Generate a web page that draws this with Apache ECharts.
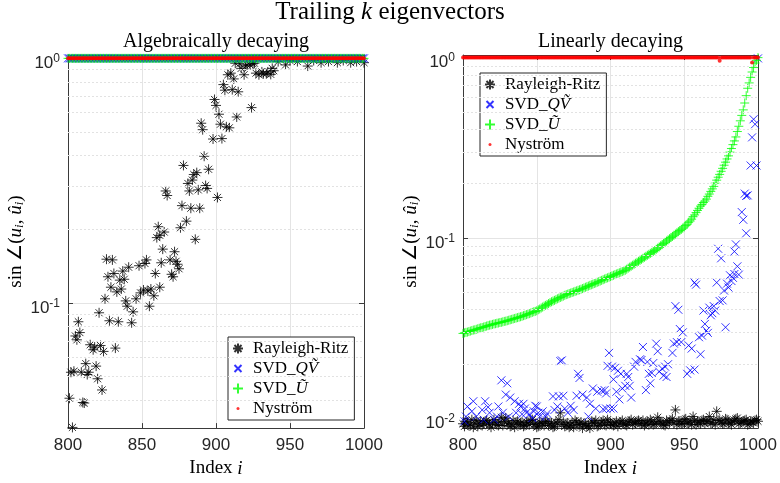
<!DOCTYPE html>
<html>
<head>
<meta charset="utf-8">
<script src="https://cdn.jsdelivr.net/npm/echarts@6/dist/echarts.min.js"></script>
<style>html,body{margin:0;padding:0;background:#fff}#chart{width:780px;height:483px}</style>
</head>
<body>
<div id="chart"></div>
<script>
const chart = echarts.init(document.getElementById('chart'));

const firstIndex = 800;
const xTicks = [800, 850, 900, 950, 1000];
const seriesNames = ['Rayleigh-Ritz', 'SVD_QV', 'SVD_U', 'Nyström'];

// left panel: Rayleigh-Ritz angles (index, value)
const rrLeftIdx = [
    803, 801, 810, 811, 823, 820, 802, 804, 809, 812,
    814, 813, 819, 815, 817, 818, 822, 824, 832, 805,
    806, 808, 807, 821, 828, 834, 843, 825, 839, 840,
    844, 846, 849, 851, 854, 856, 858, 855, 862, 829,
    836, 833, 827, 831, 837, 838, 835, 841, 848, 852,
    853, 826, 830, 859, 864, 872, 863, 869, 873, 875,
    870, 871, 874, 860, 886,
    861, 862, 865, 876, 880, 866, 867, 877, 883, 889,
    901, 893, 894, 888, 882, 881, 884, 885, 887, 878,
    895, 892, 890, 891, 898, 904, 903, 907, 902, 899,
    900, 905, 906, 908,
    909, 914, 924, 911, 915, 910, 912, 919, 917, 920,
    923, 929, 932, 934, 938, 935, 947, 962, 913, 916,
    926, 971, 982, 991, 1000, 927, 931, 937, 939, 921,
    925, 942, 950, 955, 966, 976, 986, 995,
];
const rrLeftVal = [
    0.031, 0.0408, 0.0392, 0.039, 0.0441, 0.049, 0.0521, 0.0526, 0.0521, 0.0565,
    0.0521, 0.051, 0.0552, 0.0675, 0.0644, 0.066, 0.067, 0.0634, 0.0654, 0.0733,
    0.0707, 0.0757, 0.0838, 0.0912, 0.0846, 0.0838, 0.083, 0.104, 0.102, 0.097,
    0.092, 0.104, 0.110, 0.113, 0.112, 0.114, 0.107, 0.097, 0.116, 0.116,
    0.114, 0.111, 0.128, 0.132, 0.135, 0.125, 0.124, 0.140, 0.142, 0.145,
    0.150, 0.151, 0.150, 0.132, 0.166, 0.162, 0.146, 0.150, 0.148, 0.138,
    0.131, 0.128, 0.144, 0.185, 0.182,
    0.205, 0.189, 0.195, 0.203, 0.216, 0.287, 0.275, 0.250, 0.244, 0.244,
    0.270, 0.302, 0.294, 0.290, 0.287, 0.308, 0.318, 0.335, 0.341, 0.365,
    0.352, 0.398, 0.543, 0.511, 0.468, 0.470, 0.538, 0.525, 0.591, 0.679,
    0.642, 0.781, 0.741, 0.857,
    0.520, 0.576, 0.629, 0.745, 0.730, 0.870, 0.824, 0.857, 0.910, 0.930,
    0.940, 0.857, 0.865, 0.865, 0.910, 0.880, 0.940, 0.930, 0.955, 0.950,
    0.955, 0.960, 0.960, 0.960, 0.960, 0.870, 0.880, 0.860, 0.890, 0.940,
    0.950, 0.970, 0.980, 0.970, 0.980, 0.970, 0.980, 0.970,
];

// left panel: SVD_QV, SVD_U and Nystrom all sit at 1 for every index 800..1000
const topBandLeft = [
    1,1,1,1,1,1,1,1,1,1,1,1,1,1,1,1,1,1,1,1,
    1,1,1,1,1,1,1,1,1,1,1,1,1,1,1,1,1,1,1,1,
    1,1,1,1,1,1,1,1,1,1,1,1,1,1,1,1,1,1,1,1,
    1,1,1,1,1,1,1,1,1,1,1,1,1,1,1,1,1,1,1,1,
    1,1,1,1,1,1,1,1,1,1,1,1,1,1,1,1,1,1,1,1,
    1,1,1,1,1,1,1,1,1,1,1,1,1,1,1,1,1,1,1,1,
    1,1,1,1,1,1,1,1,1,1,1,1,1,1,1,1,1,1,1,1,
    1,1,1,1,1,1,1,1,1,1,1,1,1,1,1,1,1,1,1,1,
    1,1,1,1,1,1,1,1,1,1,1,1,1,1,1,1,1,1,1,1,
    1,1,1,1,1,1,1,1,1,1,1,1,1,1,1,1,1,1,1,1,
    1,
];

// right panel: Rayleigh-Ritz at even indices 800, 802, ..., 1000
const rrRightEven = [
    0.0093, 0.0096, 0.0091, 0.0098, 0.0094, 0.0090, 0.0096, 0.0093, 0.0097, 0.0092,
    0.0094, 0.0095, 0.0091, 0.0101, 0.0096, 0.0093, 0.0090, 0.0097, 0.0094, 0.0092, 0.0095,
    0.0091, 0.0094, 0.0097, 0.0092, 0.0089, 0.0095, 0.0093, 0.0096, 0.0091, 0.0094,
    0.0090, 0.0093, 0.0107, 0.0095, 0.0092, 0.0089, 0.0094, 0.0097, 0.0092, 0.0095,
    0.0093, 0.0090, 0.0088, 0.0094, 0.0097, 0.0091, 0.0095, 0.0092, 0.0098, 0.0094,
    0.0091, 0.0096, 0.0093, 0.0097, 0.0092, 0.0095, 0.0098, 0.0094, 0.0096, 0.0093,
    0.0097, 0.0094, 0.0092, 0.0096, 0.0093, 0.0101, 0.0095, 0.0092, 0.0097, 0.0094,
    0.0099, 0.0111, 0.0096, 0.0093, 0.0098, 0.0094, 0.0096, 0.0102, 0.0092, 0.0095,
    0.0097, 0.0093, 0.0096, 0.0094, 0.0098, 0.0109, 0.0097, 0.0093, 0.0099, 0.0095,
    0.0092, 0.0097, 0.0100, 0.0094, 0.0096, 0.0098, 0.0093, 0.0095, 0.0097, 0.0096,
];
// right panel: Rayleigh-Ritz at odd indices 801, 803, ..., 999
const rrRightOdd = [
    0.0090, 0.0095, 0.0092, 0.0089, 0.0097, 0.0093, 0.0091, 0.0096, 0.0094, 0.0089,
    0.0098, 0.0092, 0.0095, 0.0091, 0.0100, 0.0094, 0.0092, 0.0089, 0.0096, 0.0093,
    0.0090, 0.0095, 0.0092, 0.0098, 0.0093, 0.0090, 0.0094, 0.0091, 0.0096, 0.0093,
    0.0089, 0.0095, 0.0098, 0.0092, 0.0090, 0.0094, 0.0091, 0.0089, 0.0095, 0.0092,
    0.0088, 0.0093, 0.0091, 0.0096, 0.0094, 0.0090, 0.0093, 0.0097, 0.0091, 0.0095,
    0.0092, 0.0094, 0.0090, 0.0095, 0.0093, 0.0091, 0.0096, 0.0092, 0.0094, 0.0097,
    0.0093, 0.0091, 0.0095, 0.0098, 0.0092, 0.0094, 0.0096, 0.0093, 0.0091, 0.0095,
    0.0097, 0.0094, 0.0092, 0.0096, 0.0093, 0.0099, 0.0094, 0.0092, 0.0097, 0.0095,
    0.0093, 0.0098, 0.0096, 0.0102, 0.0094, 0.0092, 0.0097, 0.0095, 0.0093, 0.0098,
    0.0094, 0.0096, 0.0099, 0.0093, 0.0095, 0.0097, 0.0092, 0.0096, 0.0094, 0.0098,
];

// right panel: SVD_QV (index, value)
const qvRightIdx = [
    826, 830, 829, 832, 835, 838, 841, 839, 842, 849,
    848, 851, 854, 857, 845, 861, 865, 868, 867, 866,
    864, 862, 869, 873, 875, 871, 878, 879, 877, 881,
    884, 886, 888, 891, 894, 897, 899, 898, 901, 885,
    890, 895, 900, 807, 803, 806, 802, 801, 815, 813,
    817, 818, 809, 824, 823, 821, 827, 814, 831, 836,
    840, 843, 852, 856, 847, 850, 903, 905, 907, 902,
    911, 912, 910, 908, 913, 914, 906, 904, 896, 897,
    902, 916, 917, 920, 921, 922, 925, 926, 928, 927,
    924, 929, 931, 932, 933, 935, 937, 939, 936, 938,
    942, 943, 945, 948, 944, 946, 947, 949, 952, 954,
    957, 953, 955, 957, 958, 961, 960, 962, 965, 966,
    964, 968, 969, 971, 963, 967, 970, 974, 976, 972,
    978, 977, 980, 979, 982, 983, 981, 984, 987, 986,
    973, 975, 985, 984, 992, 990, 989, 991, 993, 992,
    995, 999, 996, 997, 998, 1000,
];
const qvRightVal = [
    0.0162, 0.0156, 0.0135, 0.0130, 0.0124, 0.0120, 0.0120, 0.0116, 0.0113, 0.0117,
    0.0109, 0.0107, 0.0109, 0.0106, 0.0105, 0.0132, 0.0132, 0.0133, 0.0209, 0.0207,
    0.0116, 0.0111, 0.0113, 0.0117, 0.0111, 0.0107, 0.0176, 0.0167, 0.0133, 0.0135,
    0.0130, 0.0120, 0.0146, 0.0140, 0.0142, 0.0137, 0.0230, 0.0195, 0.0193, 0.0102,
    0.0113, 0.0112, 0.0113, 0.0124, 0.0116, 0.0109, 0.0102, 0.0096, 0.0124, 0.0111,
    0.0115, 0.0107, 0.0102, 0.0116, 0.0102, 0.0098, 0.0107, 0.0098, 0.0102, 0.0107,
    0.0105, 0.0107, 0.0102, 0.0102, 0.0100, 0.0116, 0.0190, 0.0183, 0.0176, 0.0164,
    0.0176, 0.0169, 0.0151, 0.0146, 0.0151, 0.0130, 0.0127, 0.0140, 0.0143, 0.0113,
    0.0113, 0.0193, 0.0205, 0.0212, 0.0210, 0.0248, 0.0205, 0.0176, 0.0178, 0.0156,
    0.0143, 0.0202, 0.0259, 0.0235, 0.0181, 0.0188, 0.0193, 0.0199, 0.0172, 0.0169,
    0.0230, 0.0259, 0.0264, 0.0264, 0.0418, 0.0399, 0.0312, 0.0299, 0.0176, 0.0184,
    0.0186, 0.0253, 0.0243, 0.0565, 0.0550, 0.0226, 0.0281, 0.0287, 0.0306, 0.0297,
    0.0333, 0.0372, 0.0382, 0.0395, 0.0395, 0.0410, 0.0418, 0.0446, 0.0450, 0.0565,
    0.0319, 0.0510, 0.0530, 0.0557, 0.0576, 0.0600, 0.0620, 0.0630, 0.0625, 0.0695,
    0.0870, 0.0770, 0.0920, 0.0840, 0.1060, 0.1260, 0.1390, 0.1760, 0.1720, 0.1710,
    0.2520, 0.2520, 0.3610, 0.4550, 0.4270, 0.990,
];

// right panel: SVD_U, every index 800..1000
const uRight = [
    0.0295, 0.0297, 0.0299, 0.0300, 0.0302, 0.0304, 0.0306, 0.0308, 0.0309, 0.0311,
    0.0313, 0.0315, 0.0317, 0.0318, 0.0320, 0.0322, 0.0324, 0.0326, 0.0328, 0.0329,
    0.0331, 0.0333, 0.0334, 0.0336, 0.0337, 0.0339, 0.0340, 0.0342, 0.0344, 0.0345,
    0.0347, 0.0349, 0.0351, 0.0353, 0.0355, 0.0357, 0.0359, 0.0361, 0.0363, 0.0365,
    0.0367, 0.0370, 0.0372, 0.0375, 0.0378, 0.0380, 0.0383, 0.0386, 0.0389, 0.0391,
    0.0394, 0.0399, 0.0403, 0.0408, 0.0413, 0.0418, 0.0422, 0.0427, 0.0432, 0.0437,
    0.0442, 0.0446, 0.0450, 0.0454, 0.0459, 0.0463, 0.0467, 0.0471, 0.0475, 0.0480,
    0.0484, 0.0487, 0.0491, 0.0494, 0.0498, 0.0501, 0.0505, 0.0508, 0.0512, 0.0515,
    0.0519, 0.0523, 0.0527, 0.0532, 0.0536, 0.0540, 0.0545, 0.0549, 0.0553, 0.0558,
    0.0562, 0.0567, 0.0571, 0.0576, 0.0581, 0.0586, 0.0591, 0.0596, 0.0600, 0.0605,
    0.0610, 0.0615, 0.0620, 0.0625, 0.0630, 0.0635, 0.0640, 0.0645, 0.0650, 0.0656,
    0.0661, 0.0670, 0.0679, 0.0688, 0.0696, 0.0705, 0.0714, 0.0723, 0.0732, 0.0741,
    0.0750, 0.0760, 0.0770, 0.0780, 0.0790, 0.0800, 0.0810, 0.0820, 0.0830, 0.0840,
    0.0851, 0.0864, 0.0877, 0.0890, 0.0904, 0.0917, 0.0931, 0.0945, 0.0960, 0.0974,
    0.0989, 0.1004, 0.1019, 0.1034, 0.1050, 0.1066, 0.1082, 0.1098, 0.1115, 0.1132,
    0.115, 0.117, 0.119, 0.122, 0.124, 0.127, 0.131, 0.134, 0.138, 0.142,
    0.146, 0.150, 0.153, 0.157, 0.160, 0.164, 0.170, 0.175, 0.181, 0.187,
    0.193, 0.201, 0.209, 0.217, 0.225, 0.234, 0.243, 0.253, 0.263, 0.274,
    0.285, 0.299, 0.313, 0.329, 0.345, 0.363, 0.389, 0.416, 0.446, 0.478,
    0.513, 0.560, 0.615, 0.676, 0.724, 0.777, 0.832, 0.881, 0.933, 0.966,
    1.0,
];

// right panel: Nystrom, every index 800..1000 (two dips near 974 and 996)
const nysRight = [
    1,1,1,1,1,1,1,1,1,1,1,1,1,1,1,1,1,1,1,1,
    1,1,1,1,1,1,1,1,1,1,1,1,1,1,1,1,1,1,1,1,
    1,1,1,1,1,1,1,1,1,1,1,1,1,1,1,1,1,1,1,1,
    1,1,1,1,1,1,1,1,1,1,1,1,1,1,1,1,1,1,1,1,
    1,1,1,1,1,1,1,1,1,1,1,1,1,1,1,1,1,1,1,1,
    1,1,1,1,1,1,1,1,1,1,1,1,1,1,1,1,1,1,1,1,
    1,1,1,1,1,1,1,1,1,1,1,1,1,1,1,1,1,1,1,1,
    1,1,1,1,1,1,1,1,1,1,1,1,1,1,1,1,1,1,1,1,
    1,1,1,1,1,1,1,1,1,1,1,1,1,1,0.96,1,1,1,1,1,
    1,1,1,1,1,1,1,1,1,1,1,1,1,1,1,1,0.94,1,1,1,
    1,
];

const minorLeft = [0.04, 0.05, 0.06, 0.07, 0.08, 0.09, 0.2, 0.3, 0.4, 0.5, 0.6, 0.7, 0.8, 0.9];
const minorRight = [0.02, 0.03, 0.04, 0.05, 0.06, 0.07, 0.08, 0.09, 0.2, 0.3, 0.4, 0.5, 0.6, 0.7, 0.8, 0.9];
const yRangeLeft = [0.0308, 1.032];
const yRangeRight = [0.0088, 1.034];

const seq = (values, step, start = firstIndex) => values.map((v, k) => [start + k * step, v]);
const pairs = (idx, vals) => idx.map((x, k) => [x, vals[k]]);

const serif = 'Liberation Serif';
const sans = 'Liberation Sans';
const axisColor = '#3a3a3a';
const gridColor = '#e4e4e4';

const STAR = 'path://M0,-10L0,10M-10,0L10,0M-7.07,-7.07L7.07,7.07M-7.07,7.07L7.07,-7.07';
const CROSS = 'path://M-10,-10L10,10M-10,10L10,-10';
const PLUS = 'path://M0,-10L0,10M-10,0L10,0';
// legend-only icons padded with invisible points so they draw smaller
const CROSS_SMALL = 'path://M-10,-10L-10,-10M10,10L10,10M-7,-7L7,7M-7,7L7,-7';
const DOT = 'path://M-10,-10L-10,-10M10,10L10,10M0,-3A3,3,0,1,1,0,3A3,3,0,1,1,0,-3Z';

const styles = {
    'Rayleigh-Ritz': {symbol: STAR, symbolSize: 10, itemStyle: {color: 'rgba(0,0,0,0)', borderColor: '#000', borderWidth: 1}},
    SVD_QV: {symbol: CROSS, symbolSize: 8, itemStyle: {color: 'rgba(0,0,0,0)', borderColor: '#0000ff', borderWidth: 1}},
    SVD_U: {symbol: PLUS, symbolSize: 9, itemStyle: {color: 'rgba(0,0,0,0)', borderColor: '#00ff00', borderWidth: 1}},
    'Nyström': {symbol: 'circle', symbolSize: 4, itemStyle: {color: '#ff0000', borderWidth: 0}},
};
const legendIcons = {SVD_QV: CROSS_SMALL, 'Nyström': DOT};

const scatter = (name, grid, data) => ({
    name,
    type: 'scatter',
    xAxisIndex: grid,
    yAxisIndex: grid,
    data,
    silent: true,
    ...styles[name],
});

const minorGrid = (grid, values) => ({
    type: 'line',
    xAxisIndex: grid,
    yAxisIndex: grid,
    data: [],
    z: 1,
    silent: true,
    markLine: {
        silent: true,
        symbol: 'none',
        label: {show: false},
        lineStyle: {color: '#e2e2e2', type: [2, 2], width: 1},
        data: values.map((v) => ({yAxis: v})),
    },
});

const logLabel = {
    fontFamily: sans,
    fontSize: 17,
    color: '#262626',
    margin: 8,
    padding: [10, 0, 0, 0],
    formatter: (v) => {
        const e = Math.log10(v);
        if (Math.abs(e - Math.round(e)) > 1e-6) return '';
        return '{b|10}{s|' + Math.round(e) + '}';
    },
    rich: {
        b: {fontFamily: sans, fontSize: 17, color: '#262626'},
        s: {fontFamily: sans, fontSize: 12, color: '#262626', padding: [0, 0, 9, 0]},
    },
};

const nameRich = {
    r: {fontFamily: serif, fontSize: 19, color: '#000'},
    i: {fontFamily: serif, fontSize: 19, fontStyle: 'italic', color: '#000'},
    s: {fontFamily: serif, fontSize: 13, fontStyle: 'italic', color: '#000', padding: [8, 0, 0, 0]},
};

const bottomX = (grid) => ({
    type: 'value',
    gridIndex: grid,
    min: xTicks[0],
    max: xTicks[xTicks.length - 1],
    interval: 50,
    name: '{r|Index }{i|i}',
    nameLocation: 'middle',
    nameGap: 29,
    nameTextStyle: {rich: nameRich},
    axisLine: {show: true, lineStyle: {color: axisColor}},
    axisTick: {inside: true, length: 5, lineStyle: {color: axisColor}},
    axisLabel: {fontFamily: sans, fontSize: 17, color: '#262626', margin: 9, formatter: (v) => String(v)},
    splitLine: {show: true, lineStyle: {color: gridColor}},
});

const topX = (grid, title) => ({
    type: 'value',
    gridIndex: grid,
    position: 'top',
    min: xTicks[0],
    max: xTicks[xTicks.length - 1],
    interval: 50,
    name: title,
    nameLocation: 'middle',
    nameGap: 3,
    nameTextStyle: {fontFamily: serif, fontSize: 20, color: '#000', verticalAlign: 'bottom'},
    axisLine: {show: true, onZero: false, lineStyle: {color: axisColor}},
    axisTick: {inside: true, length: 5, lineStyle: {color: axisColor}},
    axisLabel: {show: false},
    splitLine: {show: false},
});

const leftY = (grid, range, gap) => ({
    type: 'log',
    logBase: 10,
    gridIndex: grid,
    min: range[0],
    max: range[1],
    name: '{r|sin ∠(}{i|u}{s|i}{r|, }{i|û}{s|i}{r|)}',
    nameLocation: 'middle',
    nameGap: gap,
    nameRotate: 90,
    nameTextStyle: {rich: nameRich},
    axisLine: {show: true, lineStyle: {color: axisColor}},
    axisTick: {inside: true, length: 5, lineStyle: {color: axisColor}},
    axisLabel: logLabel,
    splitLine: {show: true, lineStyle: {color: gridColor}},
});

const rightY = (grid, range) => ({
    type: 'log',
    logBase: 10,
    gridIndex: grid,
    position: 'right',
    min: range[0],
    max: range[1],
    axisLine: {show: true, lineStyle: {color: axisColor}},
    axisTick: {inside: true, length: 5, lineStyle: {color: axisColor}},
    axisLabel: {show: false},
    splitLine: {show: false},
});

const legendRich = {
    r: {fontFamily: serif, fontSize: 17, color: '#000'},
    i: {fontFamily: serif, fontSize: 17, fontStyle: 'italic', color: '#000'},
};
const legendText = {
    'Rayleigh-Ritz': '{r|Rayleigh-Ritz}',
    SVD_QV: '{r|SVD_}{i|QṼ}',
    SVD_U: '{r|SVD_}{i|Ũ}',
    'Nyström': '{r|Nyström}',
};
const legend = (left, top) => ({
    left,
    top,
    orient: 'vertical',
    data: seriesNames.map((n) => (legendIcons[n] ? {name: n, icon: legendIcons[n]} : n)),
    itemWidth: 20,
    itemHeight: 10,
    itemGap: 3,
    padding: [3, 6, 3, 4],
    backgroundColor: '#fff',
    borderColor: '#262626',
    borderWidth: 1,
    borderRadius: 0,
    selectedMode: false,
    formatter: (n) => legendText[n],
    textStyle: {fontFamily: serif, fontSize: 17, lineHeight: 17, rich: legendRich},
});

const option = {
    animation: false,
    backgroundColor: '#fff',
    title: {
        text: 'Trailing {i|k} eigenvectors',
        left: 'center',
        top: 0,
        padding: 0,
        textStyle: {
            fontFamily: serif,
            fontSize: 25,
            fontWeight: 'normal',
            color: '#000',
            rich: {i: {fontFamily: serif, fontSize: 25, fontStyle: 'italic', color: '#000'}},
        },
    },
    grid: [
        {left: 68, right: 416, top: 55, bottom: 51},
        {left: 463, right: 22, top: 55, bottom: 51},
    ],
    xAxis: [bottomX(0), bottomX(1), topX(0, 'Algebraically decaying'), topX(1, 'Linearly decaying')],
    yAxis: [leftY(0, yRangeLeft, 36), leftY(1, yRangeRight, 36), rightY(0, yRangeLeft), rightY(1, yRangeRight)],
    legend: [legend(228, 337), legend(480, 73)],
    series: [
        minorGrid(0, minorLeft),
        minorGrid(1, minorRight),
        scatter('Rayleigh-Ritz', 0, pairs(rrLeftIdx, rrLeftVal)),
        scatter('SVD_QV', 0, seq(topBandLeft, 1)),
        scatter('SVD_U', 0, seq(topBandLeft, 1)),
        scatter('Nyström', 0, seq(topBandLeft, 1)),
        scatter('Rayleigh-Ritz', 1, seq(rrRightEven, 2).concat(seq(rrRightOdd, 2, firstIndex + 1))),
        scatter('SVD_QV', 1, pairs(qvRightIdx, qvRightVal)),
        scatter('SVD_U', 1, seq(uRight, 1)),
        scatter('Nyström', 1, seq(nysRight, 1)),
    ],
};

chart.setOption(option);
</script>
</body>
</html>
